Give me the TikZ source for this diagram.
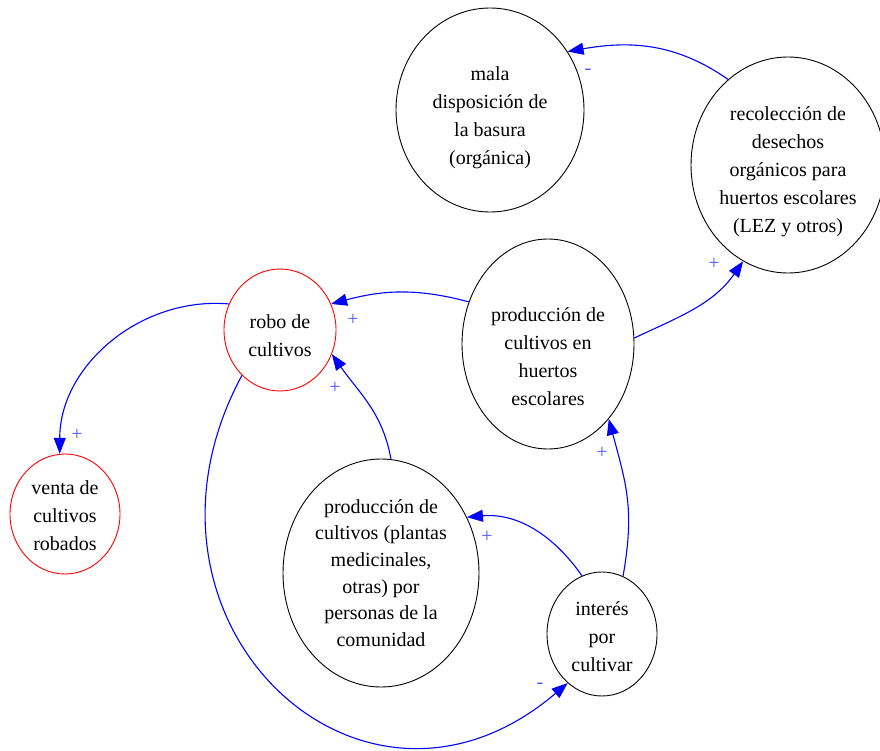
\documentclass[tikz,border=0pt]{standalone}
\usepackage{fontspec}
\setmainfont{Liberation Serif}
\usetikzlibrary{shapes.geometric,arrows.meta}
\definecolor{signblue}{RGB}{85,85,255}

\begin{document}
\begin{tikzpicture}[x=1pt, y=-1pt,
    state/.style={ellipse, draw=black, line width=0.9pt, inner sep=0pt, align=center,
        font=\fontsize{20}{28}\selectfont},
    drop/.style={execute at begin node={\rule{0pt}{#1}},
        execute at end node={\rule[-6pt]{0pt}{0pt}}},
    hot/.style={state, draw=red},
    link/.style={draw=blue, line width=1.1pt, -{Triangle[length=16pt,width=12pt]}},
    sign/.style={text=signblue, inner sep=0pt, font=\fontsize{20}{24}\selectfont}]

    \useasboundingbox (0,0) rectangle (880,751);

    % nodes
    \node[state, minimum width=188pt, minimum height=204pt, drop=115pt] (mala) at (490,110)
        {mala\\disposición de\\la basura\\(orgánica)};
    \node[state, minimum width=186pt, minimum height=216pt, drop=141pt] (recol) at (788,165)
        {recolección de\\desechos\\orgánicos para\\huertos escolares\\(LEZ y otros)};
    \node[hot, minimum width=112pt, minimum height=122pt, drop=59pt] (robo) at (280,330)
        {robo de\\cultivos};
    \node[state, minimum width=172pt, minimum height=210pt, drop=129pt] (huertos) at (548,344)
        {producción de\\cultivos en\\huertos\\escolares};
    \node[hot, minimum width=110pt, minimum height=120pt, drop=78pt] (venta) at (65,514)
        {venta de\\cultivos\\robados};
    \node[state, minimum width=196pt, minimum height=228pt,
        font=\fontsize{20}{26.6}\selectfont] (comun) at (381,573)
        {producción de\\cultivos (plantas\\medicinales,\\otras) por\\personas de la\\comunidad};
    \node[state, minimum width=110pt, minimum height=124pt, drop=80pt] (interes) at (602,634)
        {interés\\por\\cultivar};

    % links
    \draw[link] (recol.125) to[out=145, in=10] (mala.37);
    \draw[link] (huertos.4) to[out=25, in=235] (recol.245);
    \draw[link] (huertos.152) to[out=165, in=15] (robo.27);
    \draw[link] (robo.153) to[out=175, in=90] (venta.95);
    \draw[link] (robo.230) .. controls (110,620) and (360,860) .. (interes.235);
    \draw[link] (comun.85) to[out=100, in=305] (robo.335);
    \draw[link] (interes.109) to[out=125, in=5] (comun.33);
    \draw[link] (interes.70) to[out=80, in=285, looseness=1.1] (huertos.309);

    % polarity signs
    \node[sign] (s1) at (588,72) {-};
    \node[sign] (s2) at (714,264) {+};
    \node[sign] (s3) at (353,320) {+};
    \node[sign] (s4) at (77,435) {+};
    \node[sign] (s5) at (540,686) {-};
    \node[sign] (s6) at (335,388) {+};
    \node[sign] (s7) at (487,537) {+};
    \node[sign] (s8) at (602,453) {+};
\end{tikzpicture}
\end{document}
